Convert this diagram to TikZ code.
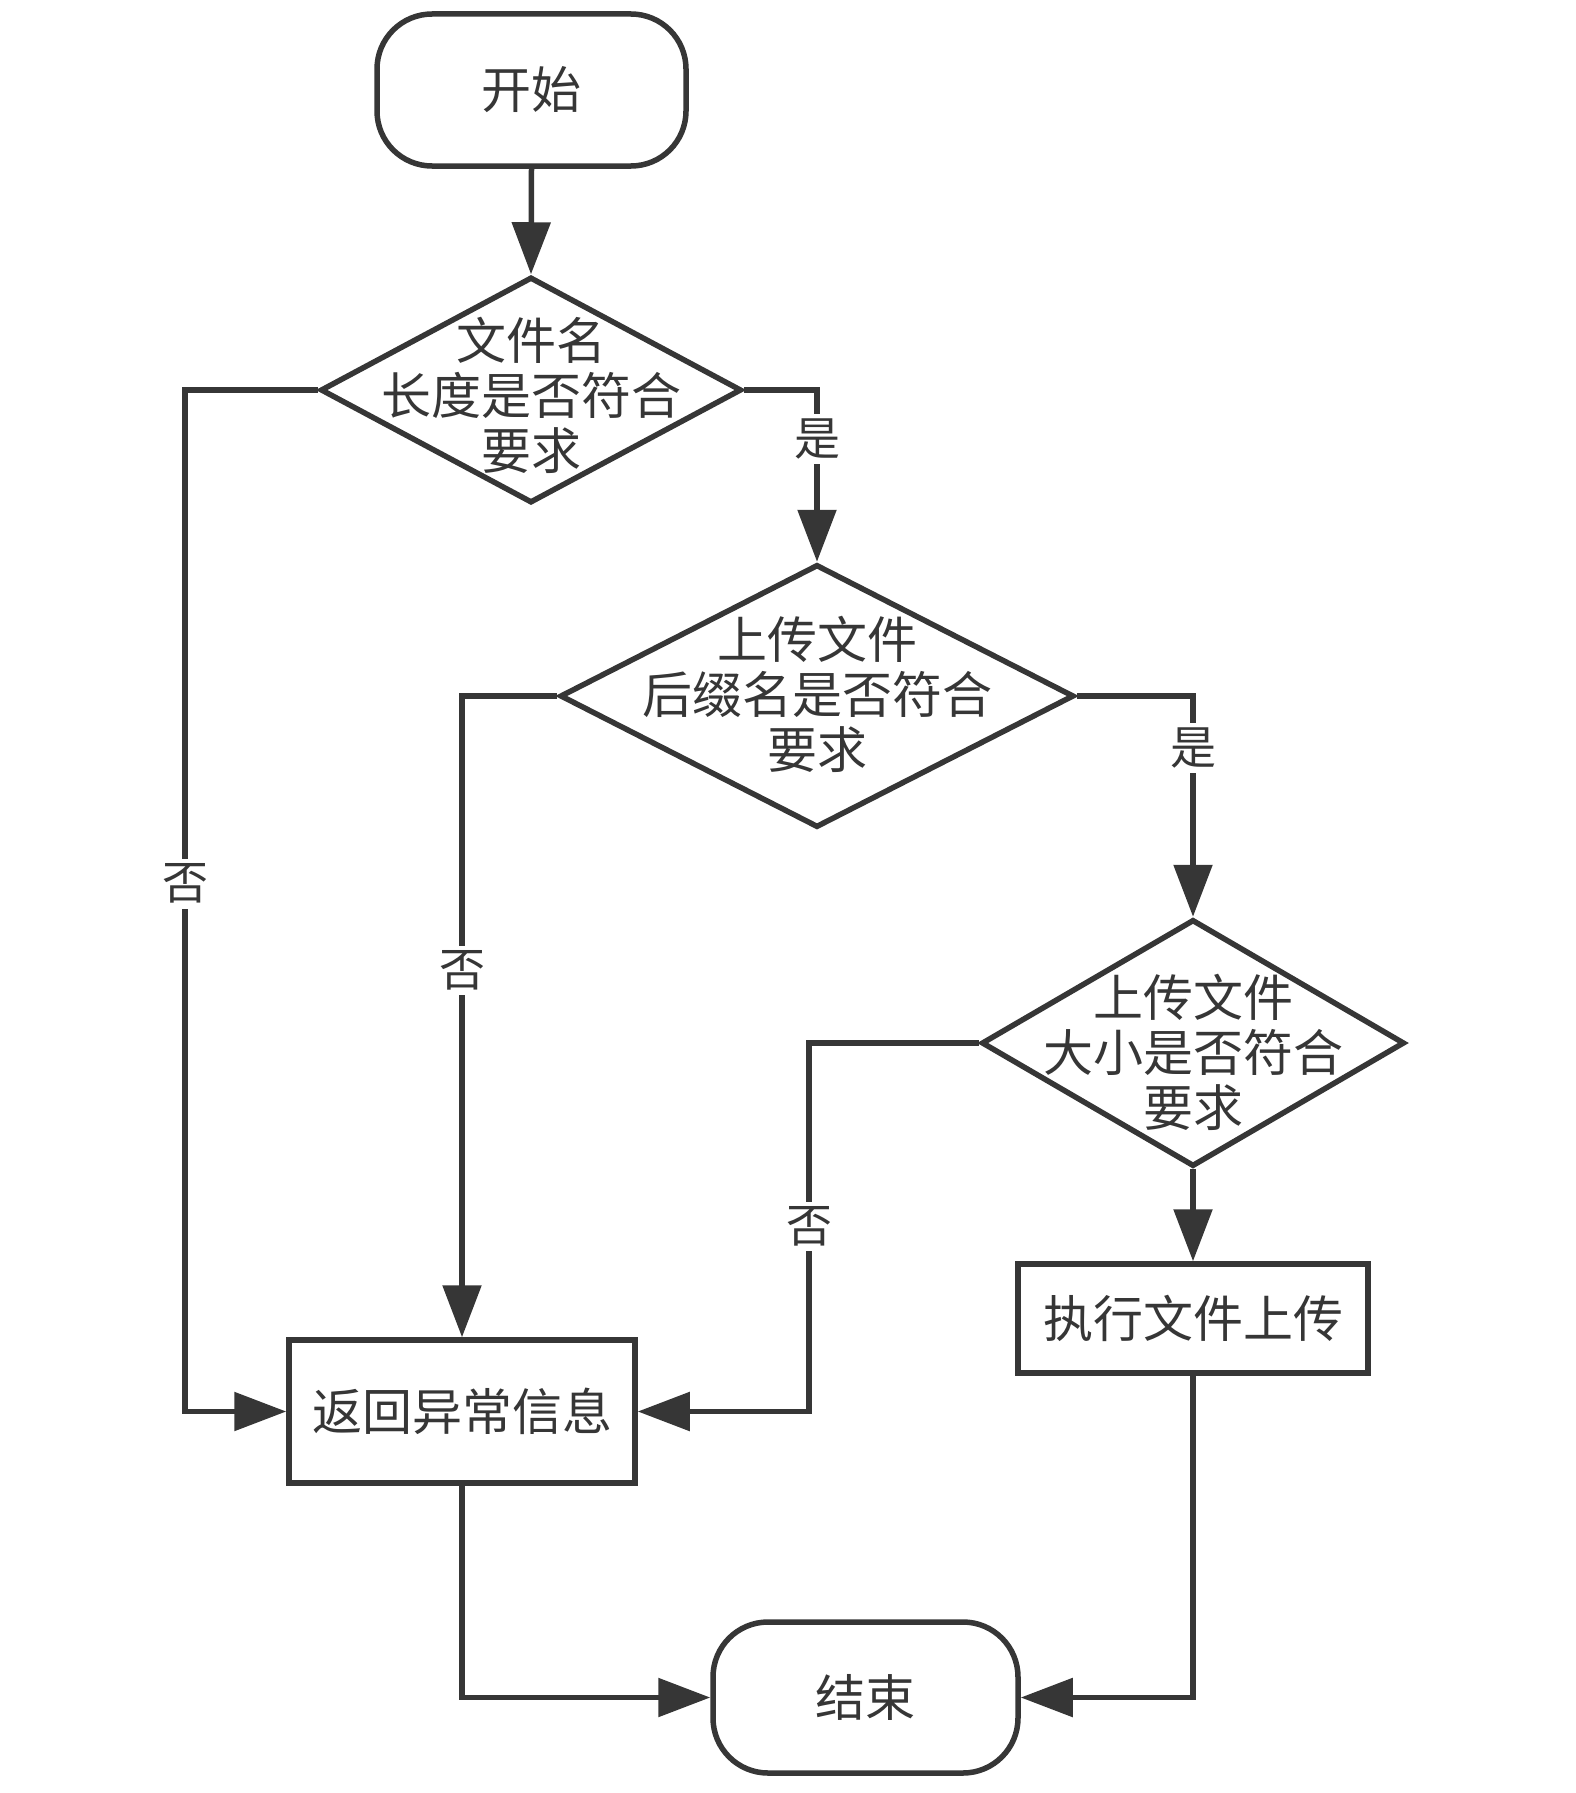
\documentclass[tikz,border=0pt]{standalone}
\usepackage{fontspec}
\setmainfont{Noto Sans CJK SC}
\usetikzlibrary{arrows.meta,shapes.geometric,calc}
\definecolor{ln}{HTML}{363636}
\begin{document}
\begin{tikzpicture}[x=1pt,y=-1pt,
  every node/.style={text=ln},
  txt/.style={font=\fontsize{50}{55}\selectfont, align=center, inner sep=0pt},
  term/.style={draw=ln, line width=5.5pt, rounded corners=55pt, minimum width=#1, minimum height=151pt, font=\fontsize{50}{55}\selectfont},
  proc/.style={draw=ln, line width=5.5pt, font=\fontsize{50}{55}\selectfont, inner sep=0pt},
  dia/.style={draw=ln, line width=5.5pt, diamond, inner sep=0pt},
  lbl/.style={fill=white, inner sep=5pt, font=\fontsize{46}{50}\selectfont},
  arr/.style={draw=ln, line width=5.5pt, -{Triangle[length=52pt,width=38pt]}}
]
\useasboundingbox (0,0) rectangle (1575,1793);

% nodes
\node[term=309pt, minimum height=152pt] (start) at (531.5,90) {开始};
\node[dia, minimum width=421pt, minimum height=226pt] (d1) at (531,390) {};
\node[txt] (t1) at ($(d1.center)+(0,5)$) {文件名\\长度是否符合\\要求};
\node[dia, minimum width=514pt, minimum height=263pt] (d2) at (817,696) {};
\node[txt] (t2) at ($(d2.center)+(0,-2)$) {上传文件\\后缀名是否符合\\要求};
\node[dia, minimum width=423pt, minimum height=247pt] (d3) at (1193,1043) {};
\node[txt] (t3) at ($(d3.center)+(0,9)$) {上传文件\\大小是否符合\\要求};
\node[proc, minimum width=350pt, minimum height=109pt] (exec) at (1193,1318.5) {执行文件上传};
\node[proc, minimum width=346pt, minimum height=143pt] (ret) at (462,1411.5) {返回异常信息};
\node[term=305pt] (end) at (865.5,1697.5) {结束};

\coordinate (c1) at (185,390);
\coordinate (c3) at (809,1043);

% connectors
\draw[arr] (start.south) -- (d1.north);
\draw[arr] (d1.east) -| node[lbl, pos=0.643] {是} (d2.north);
\draw[arr] (d2.east) -| node[lbl, pos=0.618] {是} (d3.north);
\draw[arr] (d1.west) -- (c1) |- node[lbl, pos=0.2417] {否} (ret.west);
\draw[arr] (d2.west) -| node[lbl, pos=0.714] {否} (ret.north);
\draw[arr] (d3.west) -- (c3) |- node[lbl, pos=0.249] {否} (ret.east);
\draw[arr] (d3.south) -- (exec.north);
\draw[arr] (exec.south) |- (end.east);
\draw[arr] (ret.south) |- (end.west);
\end{tikzpicture}
\end{document}
